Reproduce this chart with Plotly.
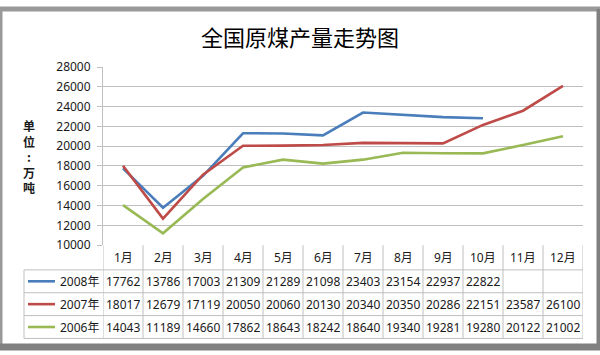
import plotly.graph_objects as go

months = ["1月", "2月", "3月", "4月", "5月", "6月", "7月", "8月", "9月", "10月", "11月", "12月"]
series_names = ["2008年", "2007年", "2006年"]
v2008 = [17762, 13786, 17003, 21309, 21289, 21098, 23403, 23154, 22937, 22822, None, None]
v2007 = [18017, 12679, 17119, 20050, 20060, 20130, 20340, 20350, 20286, 22151, 23587, 26100]
v2006 = [14043, 11189, 14660, 17862, 18643, 18242, 18640, 19340, 19281, 19280, 20122, 21002]
colors = ["#4A7EBB", "#BE4B48", "#98B954"]
y_ticks = [10000, 12000, 14000, 16000, 18000, 20000, 22000, 24000, 26000, 28000]

W, H = 600, 355
def px(x):
    return x / W
def py(y):
    return 1 - y / H

PL, PR, PT, PB = 103, 583, 61, 248
row_lines = [274, 298, 322, 346]
grid_col = "#BFBFBF"
font_fam = "Noto Sans, Noto Sans CJK SC, sans-serif"
txt_col = "#1a1a1a"

fig = go.Figure()
all_vals = [v2008, v2007, v2006]
for name, vals, c in zip(series_names, all_vals, colors):
    fig.add_trace(go.Scatter(x=months, y=vals, mode="lines", name=name,
                             line=dict(color=c, width=2.6), connectgaps=False,
                             showlegend=False))

shapes = []
annotations = []

annotations.append(dict(x=0.5, y=py(28), xref="paper", yref="paper", text="全国原煤产量走势图",
                        showarrow=False, font=dict(family="Noto Sans CJK SC", size=22, color="#000"),
                        xanchor="center", yanchor="middle"))
annotations.append(dict(x=px(29), y=py(155), xref="paper", yref="paper",
                        text="<b>单<br>位<br>:<br>万<br>吨</b>", showarrow=False,
                        font=dict(family="Noto Sans CJK SC", size=12, color=txt_col),
                        xanchor="center", yanchor="middle"))

for i in range(len(months) + 1):
    shapes.append(dict(type="line", xref="x", yref="paper", x0=i - 0.5, x1=i - 0.5,
                       y0=py(PB), y1=py(row_lines[-1]), line=dict(color=grid_col, width=1)))
for yl in row_lines:
    shapes.append(dict(type="line", xref="paper", yref="paper", x0=px(24), x1=px(PR),
                       y0=py(yl), y1=py(yl), line=dict(color=grid_col, width=1)))
shapes.append(dict(type="line", xref="paper", yref="paper", x0=px(24), x1=px(24),
                   y0=py(row_lines[0]), y1=py(row_lines[-1]), line=dict(color=grid_col, width=1)))

for m in months:
    annotations.append(dict(x=m, y=py((PB + row_lines[0]) / 2), xref="x", yref="paper", text=m,
                            showarrow=False, font=dict(family=font_fam, size=12, color=txt_col),
                            xanchor="center", yanchor="middle"))
for r, (name, vals, c) in enumerate(zip(series_names, all_vals, colors)):
    yc = (row_lines[r] + row_lines[r + 1]) / 2
    shapes.append(dict(type="line", xref="paper", yref="paper", x0=px(28), x1=px(55),
                       y0=py(yc), y1=py(yc), line=dict(color=c, width=2.6)))
    annotations.append(dict(x=px(101), y=py(yc), xref="paper", yref="paper", text=name,
                            showarrow=False, font=dict(family=font_fam, size=12, color=txt_col),
                            xanchor="right", yanchor="middle"))
    for m, v in zip(months, vals):
        if v is None:
            continue
        annotations.append(dict(x=m, y=py(yc), xref="x", yref="paper", text=str(v),
                                showarrow=False, font=dict(family=font_fam, size=12, color=txt_col),
                                xanchor="center", yanchor="middle"))

shapes.append(dict(type="line", xref="paper", yref="paper", x0=0, x1=0, y0=0, y1=1,
                   line=dict(color="#999999", width=5)))
shapes.append(dict(type="line", xref="paper", yref="paper", x0=0, x1=1, y0=1, y1=1,
                   line=dict(color="#999999", width=5)))
shapes.append(dict(type="line", xref="paper", yref="paper", x0=1, x1=1, y0=0, y1=1,
                   line=dict(color="#808080", width=7)))
shapes.append(dict(type="line", xref="paper", yref="paper", x0=0, x1=1, y0=0, y1=0,
                   line=dict(color="#808080", width=7)))

fig.update_layout(
    width=W, height=H, margin=dict(l=0, r=0, t=0, b=0),
    paper_bgcolor="white", plot_bgcolor="white",
    xaxis=dict(domain=[px(PL), px(PR)], type="category", range=[-0.5, 11.5],
               showticklabels=False, showgrid=False, zeroline=False, showline=False, ticks=""),
    yaxis=dict(domain=[py(PB), py(PT)], range=[10000, 28000], tickvals=y_ticks,
               tickformat="d", ticklabelstandoff=4,
               showgrid=True, gridcolor=grid_col, gridwidth=1, zeroline=False,
               showline=True, linecolor=grid_col, linewidth=1,
               ticks="outside", ticklen=5, tickcolor=grid_col,
               tickfont=dict(family=font_fam, size=12, color=txt_col)),
    shapes=shapes, annotations=annotations,
)
fig.write_html("out.html")
